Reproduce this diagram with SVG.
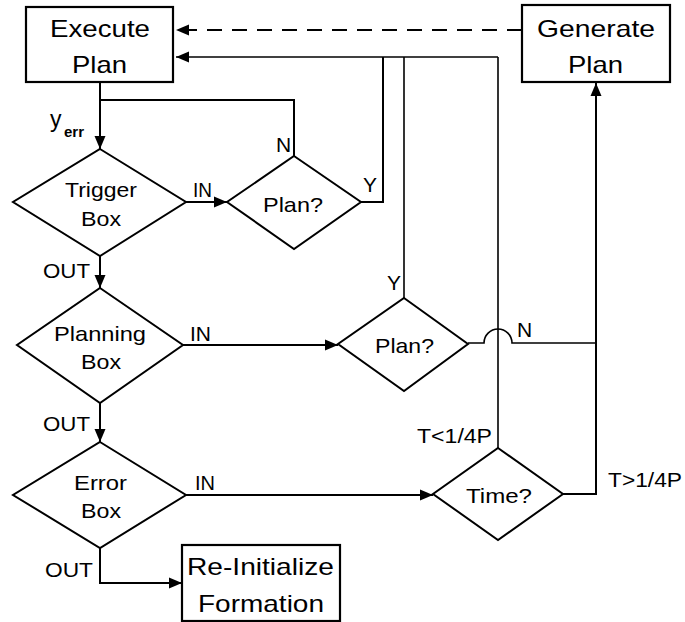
<svg xmlns="http://www.w3.org/2000/svg" width="685" height="622" viewBox="0 0 685 622">
<style>
.box{fill:#fff;stroke:#000;stroke-width:2.2}
.dia{fill:#fff;stroke:#000;stroke-width:2}
.ln{fill:none;stroke:#000;stroke-width:2}
.th{fill:none;stroke:#000;stroke-width:1.6}
text{font-family:"Liberation Sans",Arial,sans-serif;fill:#000}
.big{font-size:24px}
.mid{font-size:21px}
.lbl{font-size:21px}
</style>
<defs>
<marker id="ah" markerUnits="userSpaceOnUse" markerWidth="14" markerHeight="12" refX="13" refY="6" orient="auto">
<path d="M0,0.5 L13,6 L0,11.5 z" fill="#000"/>
</marker>
</defs>
<rect width="685" height="622" fill="#fff"/>
<g id="connectors">
<path class="ln" d="M522,30 H176" stroke-dasharray="15 10" marker-end="url(#ah)"/>
<path class="th" d="M498,57 H176" marker-end="url(#ah)"/>
<path class="ln" d="M361,202 H383 V57"/>
<path class="th" d="M404,298 V57"/>
<path class="th" d="M498,448 V57"/>
<path class="ln" d="M100,82 V149" marker-end="url(#ah)"/>
<path class="ln" d="M100,100 H294 V156"/>
<path class="ln" d="M186,202 H227" marker-end="url(#ah)"/>
<path class="ln" d="M100,256 V288" marker-end="url(#ah)"/>
<path class="ln" d="M183,345 H338" marker-end="url(#ah)"/>
<path class="th" d="M468,343 H484 A14,14 0 0 1 512,343 H596"/>
<path class="ln" d="M100,403 V442" marker-end="url(#ah)"/>
<path class="ln" d="M186,495 H433" marker-end="url(#ah)"/>
<path class="ln" d="M563,494 H596 V83" marker-end="url(#ah)"/>
<path class="ln" d="M100,548 V583 H182" marker-end="url(#ah)"/>
</g>
<g id="execute-plan">
<rect class="box" x="26" y="7" width="147" height="75"/>
<text class="big" x="50" y="37" textLength="100" lengthAdjust="spacingAndGlyphs">Execute</text>
<text class="big" x="72" y="73" textLength="55" lengthAdjust="spacingAndGlyphs">Plan</text>
</g>
<g id="generate-plan">
<rect class="box" x="522" y="5" width="148" height="77"/>
<text class="big" x="537" y="37" textLength="118" lengthAdjust="spacingAndGlyphs">Generate</text>
<text class="big" x="568" y="73" textLength="55" lengthAdjust="spacingAndGlyphs">Plan</text>
</g>
<g id="reinit">
<rect class="box" x="182" y="545" width="158" height="76"/>
<text class="big" x="187" y="575" textLength="147" lengthAdjust="spacingAndGlyphs">Re-Initialize</text>
<text class="big" x="198" y="612" textLength="126" lengthAdjust="spacingAndGlyphs">Formation</text>
</g>
<g id="trigger-box">
<polygon class="dia" points="100,149 186,202 100,256 13,202"/>
<text class="mid" x="65" y="197" textLength="72" lengthAdjust="spacingAndGlyphs">Trigger</text>
<text class="mid" x="81" y="226" textLength="40" lengthAdjust="spacingAndGlyphs">Box</text>
</g>
<g id="plan1">
<polygon class="dia" points="294,156 361,202 294,249 227,202"/>
<text class="mid" x="263" y="212" textLength="60" lengthAdjust="spacingAndGlyphs">Plan?</text>
</g>
<g id="planning-box">
<polygon class="dia" points="100,288 183,345 100,403 17,345"/>
<text class="mid" x="54" y="341" textLength="92" lengthAdjust="spacingAndGlyphs">Planning</text>
<text class="mid" x="81" y="369" textLength="40" lengthAdjust="spacingAndGlyphs">Box</text>
</g>
<g id="plan2">
<polygon class="dia" points="404,298 468,344 404,391 338,344"/>
<text class="mid" x="375" y="353" textLength="59" lengthAdjust="spacingAndGlyphs">Plan?</text>
</g>
<g id="error-box">
<polygon class="dia" points="100,442 186,495 100,548 13,495"/>
<text class="mid" x="74" y="490" textLength="53" lengthAdjust="spacingAndGlyphs">Error</text>
<text class="mid" x="81" y="518" textLength="40" lengthAdjust="spacingAndGlyphs">Box</text>
</g>
<g id="time">
<polygon class="dia" points="498,448 563,494 498,540 433,494"/>
<text class="mid" x="466" y="503" textLength="66" lengthAdjust="spacingAndGlyphs">Time?</text>
</g>
<g id="labels">
<text x="50" y="127" style="font-size:23px">y</text>
<text x="64" y="137" style="font-size:15px;font-weight:bold">err</text>
<text class="lbl" x="276" y="152">N</text>
<text class="lbl" x="193" y="197" textLength="19" lengthAdjust="spacingAndGlyphs">IN</text>
<text class="lbl" x="363" y="192">Y</text>
<text class="lbl" x="43" y="278" textLength="47" lengthAdjust="spacingAndGlyphs">OUT</text>
<text class="lbl" x="190" y="341" textLength="21" lengthAdjust="spacingAndGlyphs">IN</text>
<text class="lbl" x="387" y="290">Y</text>
<text class="lbl" x="517" y="337">N</text>
<text class="lbl" x="43" y="431" textLength="47" lengthAdjust="spacingAndGlyphs">OUT</text>
<text class="lbl" x="417" y="443" textLength="75" lengthAdjust="spacingAndGlyphs">T&lt;1/4P</text>
<text class="lbl" x="195" y="490" textLength="20" lengthAdjust="spacingAndGlyphs">IN</text>
<text class="lbl" x="608" y="487" textLength="74" lengthAdjust="spacingAndGlyphs">T&gt;1/4P</text>
<text class="lbl" x="45" y="577" textLength="48" lengthAdjust="spacingAndGlyphs">OUT</text>
</g>
</svg>
